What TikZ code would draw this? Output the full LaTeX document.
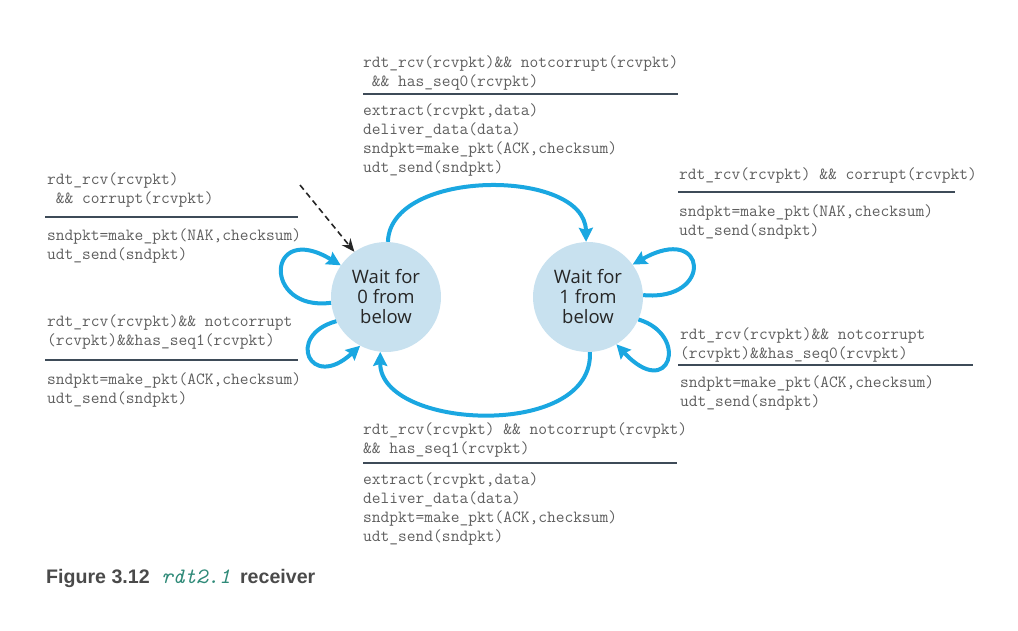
\documentclass[tikz,border=0pt]{standalone}
\usepackage{fontspec}
\newfontfamily\statefont{Open Sans}
\newfontfamily\capfont{Liberation Sans}
\usetikzlibrary{arrows.meta,positioning}

\definecolor{arrowblue}{HTML}{1AA7E1}
\definecolor{statefill}{HTML}{C8E1EF}
\definecolor{codegray}{HTML}{5E5E5E}
\definecolor{rulegray}{HTML}{3E4B58}
\definecolor{capgray}{HTML}{4A4A4A}
\definecolor{capteal}{HTML}{2F8A78}

\begin{document}
\begin{tikzpicture}[x=1pt,y=-1pt,
	state/.style={circle,fill=statefill,minimum size=110pt,inner sep=0pt,
		align=center,font=\statefont\fontsize{18.5}{20}\selectfont,text=black!85},
	trans/.style={draw=arrowblue,line width=4pt,
		-{Stealth[length=14pt,width=14pt,inset=2pt]}},
	code/.style={anchor=north west,inner sep=0pt,align=left,text=codegray,
		font=\ttfamily\fontsize{17}{19}\selectfont},
	bar/.style={draw=rulegray,line width=1.6pt},]
	\useasboundingbox (0,0) rectangle (1018,630);

	% states
	\node [state] (s0) at (386,297) {Wait for\\0 from\\below};
	\node [state] (s1) at (588,297) {Wait for\\1 from\\below};
	\coordinate (init) at (300,185);

	% transitions
	\draw [line width=1.6pt,black!85,dash pattern=on 6pt off 4pt,
		-{Stealth[length=13pt,width=11pt]}] (init) -- (s0.125);
	\draw [trans] (s0.88) .. controls (390,168) and (585,168) .. (s1.92);
	\draw [trans] (s1.-88) .. controls (594,440) and (380,430) .. (s0.-96);
	\draw [trans] (s0.186) .. controls (262,312) and (266,220) .. (s0.145);
	\draw [trans] (s0.206) .. controls (285,335) and (310,392) .. (s0.242);
	\draw [trans] (s1.2) .. controls (714,302) and (708,222) .. (s1.36);
	\draw [trans] (s1.-24) .. controls (690,335) and (670,402) .. (s1.-59);

	% top label
	\node [code] (g01) at (363,55) {rdt\_rcv(rcvpkt)\&\& notcorrupt(rcvpkt)\\
		\ \&\& has\_seq0(rcvpkt)};
	\draw [bar] (363,94) -- (678,94);
	\node [code] (a01) at (363,103) {extract(rcvpkt,data)\\deliver\_data(data)\\
		sndpkt=make\_pkt(ACK,checksum)\\udt\_send(sndpkt)};

	% left labels
	\node [code] (g00) at (47,172) {rdt\_rcv(rcvpkt)\\\ \&\& corrupt(rcvpkt)};
	\draw [bar] (45,217) -- (298,217);
	\node [code] (a00) at (47,228) {sndpkt=make\_pkt(NAK,checksum)\\udt\_send(sndpkt)};

	\node [code] (g00b) at (47,314) {rdt\_rcv(rcvpkt)\&\& notcorrupt\\
		(rcvpkt)\&\&has\_seq1(rcvpkt)};
	\draw [bar] (45,360) -- (298,360);
	\node [code] (a00b) at (47,372) {sndpkt=make\_pkt(ACK,checksum)\\udt\_send(sndpkt)};

	% right labels
	\node [code] (g11) at (679,167) {rdt\_rcv(rcvpkt) \&\& corrupt(rcvpkt)};
	\draw [bar] (678,192) -- (955,192);
	\node [code] (a11) at (679,204) {sndpkt=make\_pkt(NAK,checksum)\\udt\_send(sndpkt)};

	\node [code] (g11b) at (680,327) {rdt\_rcv(rcvpkt)\&\& notcorrupt\\
		(rcvpkt)\&\&has\_seq0(rcvpkt)};
	\draw [bar] (678,365) -- (973,365);
	\node [code] (a11b) at (680,375) {sndpkt=make\_pkt(ACK,checksum)\\udt\_send(sndpkt)};

	% bottom label
	\node [code] (g10) at (363,422) {rdt\_rcv(rcvpkt) \&\& notcorrupt(rcvpkt)\\
		\&\& has\_seq1(rcvpkt)};
	\draw [bar] (363,463) -- (677,463);
	\node [code] (a10) at (363,472) {extract(rcvpkt,data)\\deliver\_data(data)\\
		sndpkt=make\_pkt(ACK,checksum)\\udt\_send(sndpkt)};

	% caption
	\node [anchor=west,inner sep=0pt,text=capgray,
		font=\capfont\bfseries\fontsize{19.6}{22}\selectfont] (cap) at (46,578)
		{Figure 3.12\hspace{0.6em}{\ttfamily\mdseries\itshape\fontsize{22}{22}\selectfont\color{capteal}rdt2.1}\hspace{0.2em} receiver};
\end{tikzpicture}
\end{document}
